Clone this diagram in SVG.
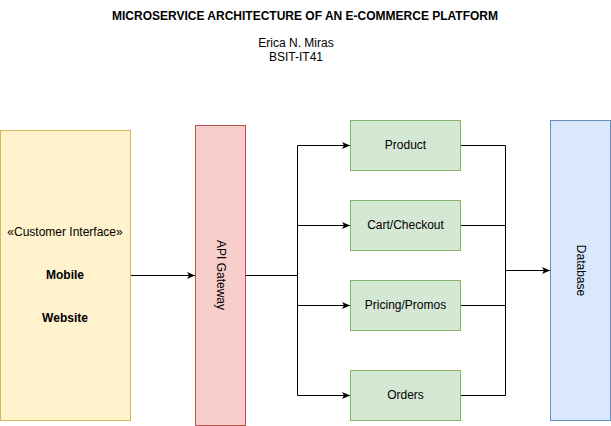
<svg xmlns="http://www.w3.org/2000/svg" width="611" height="426" viewBox="0 0 611 426">
<style>
text{font-family:"Liberation Sans",Arial,sans-serif;font-size:12px;fill:#000}
.c{text-anchor:middle}
.b{font-weight:bold}
.yel{fill:#fff2cc;stroke:#d6b656}
.red{fill:#f8cecc;stroke:#b85450}
.grn{fill:#d5e8d4;stroke:#82b366}
.blu{fill:#dae8fc;stroke:#6c8ebf}
.ln{fill:none;stroke:#000;stroke-width:1}
</style>
<defs>
<marker id="ar" markerUnits="userSpaceOnUse" markerWidth="10" markerHeight="10" refX="8" refY="4" orient="auto">
<path d="M0,0.5 L8,4 L0,7.5 L2,4 z" fill="#000"/>
</marker>
</defs>
<rect width="611" height="426" fill="#fff"/>
<g id="title">
<text class="c b" x="305" y="20">MICROSERVICE ARCHITECTURE OF AN E-COMMERCE PLATFORM</text>
<text class="c" x="296" y="47">Erica N. Miras</text>
<text class="c" x="296" y="61">BSIT-IT41</text>
</g>
<g id="connectors">
<path class="ln" d="M130.5,275.5 H195" marker-end="url(#ar)"/>
<path class="ln" d="M245.5,275.5 H297.5"/>
<path class="ln" d="M297.5,145.5 V395.5"/>
<path class="ln" d="M297.5,145.5 H350" marker-end="url(#ar)"/>
<path class="ln" d="M297.5,225.5 H350" marker-end="url(#ar)"/>
<path class="ln" d="M297.5,305.5 H350" marker-end="url(#ar)"/>
<path class="ln" d="M297.5,395.5 H350" marker-end="url(#ar)"/>
<path class="ln" d="M460.5,145.5 H505.5 V395.5 H460.5"/>
<path class="ln" d="M460.5,225.5 H505.5"/>
<path class="ln" d="M460.5,305.5 H505.5"/>
<path class="ln" d="M505.5,270.5 H550" marker-end="url(#ar)"/>
</g>
<g id="customer">
<rect class="yel" x="0.5" y="130.5" width="130" height="290"/>
<text class="c" x="65" y="236">«Customer Interface»</text>
<text class="c b" x="65" y="279">Mobile</text>
<text class="c b" x="65" y="322">Website</text>
</g>
<g id="gateway">
<rect class="red" x="195.5" y="125.5" width="50" height="300"/>
<text class="c" transform="translate(220.5,275) rotate(90)" y="4">API Gateway</text>
</g>
<g id="product">
<rect class="grn" x="350.5" y="120.5" width="110" height="50"/>
<text class="c" x="405.5" y="148.5">Product</text>
</g>
<g id="cart">
<rect class="grn" x="350.5" y="200.5" width="110" height="50"/>
<text class="c" x="405.5" y="228.5">Cart/Checkout</text>
</g>
<g id="pricing">
<rect class="grn" x="350.5" y="280.5" width="110" height="50"/>
<text class="c" x="405.5" y="308.5">Pricing/Promos</text>
</g>
<g id="orders">
<rect class="grn" x="350.5" y="370.5" width="110" height="50"/>
<text class="c" x="405.5" y="398.5">Orders</text>
</g>
<g id="database">
<rect class="blu" x="550.5" y="120.5" width="60" height="300"/>
<text class="c" transform="translate(580.5,270.5) rotate(90)" y="4">Database</text>
</g>
</svg>
